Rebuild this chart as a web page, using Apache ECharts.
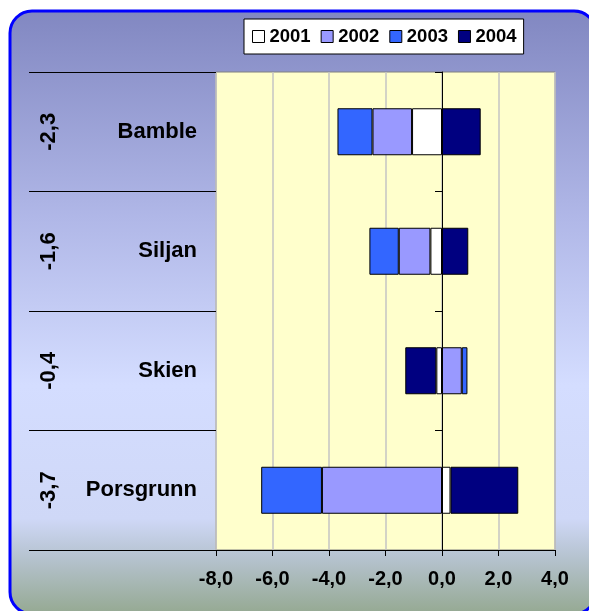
<!DOCTYPE html>
<html>
<head>
<meta charset="utf-8">
<script src="https://cdn.jsdelivr.net/npm/echarts@6/dist/echarts.min.js"></script>
<style>
  html, body { margin: 0; padding: 0; background: #fff; }
  #chart { width: 589px; height: 611px; }
</style>
</head>
<body>
<div id="chart"></div>
<script>
const municipalities = ['Bamble', 'Siljan', 'Skien', 'Porsgrunn'];
const totalLabels = ['-2,3', '-1,6', '-0,4', '-3,7'];
const years = ['2001', '2002', '2003', '2004'];

const values2001 = [-1.06, -0.41, -0.2, 0.3];
const values2002 = [-1.4, -1.12, 0.7, -4.25];
const values2003 = [-1.24, -1.04, 0.2, -2.15];
const values2004 = [1.37, 0.93, -1.1, 2.4];

const yearColors = ['#FFFFFF', '#9999FF', '#3366FF', '#000080'];
const font = 'Liberation Sans, Arial, sans-serif';

const chart = echarts.init(document.getElementById('chart'));

function barSeries(name, data, color) {
  return {
    name: name,
    type: 'bar',
    stack: 'total',
    yAxisIndex: 0,
    barWidth: 47,
    itemStyle: { color: color, borderColor: '#000', borderWidth: 1 },
    data: data
  };
}

const option = {
  animation: false,
  graphic: [
    {
      type: 'rect',
      z: -100,
      shape: { x: 10, y: 11, width: 586, height: 603, r: 22 },
      style: {
        fill: new echarts.graphic.LinearGradient(0, 0, 0, 1, [
          { offset: 0, color: '#8187C1' },
          { offset: 0.35, color: '#B1B8E8' },
          { offset: 0.62, color: '#D4DDFF' },
          { offset: 0.84, color: '#CFD8F7' },
          { offset: 0.9, color: '#B7C4D2' },
          { offset: 1, color: '#94A890' }
        ]),
        stroke: '#0000FF',
        lineWidth: 3
      }
    }
  ],
  legend: {
    data: years,
    left: 244,
    top: 19,
    padding: [8, 7, 8, 8],
    itemGap: 10,
    itemWidth: 12,
    itemHeight: 12,
    icon: 'rect',
    backgroundColor: '#FFFFFF',
    borderColor: '#000',
    borderWidth: 1,
    itemStyle: { borderColor: '#000', borderWidth: 1 },
    textStyle: { fontFamily: font, fontSize: 18.5, fontWeight: 'bold', color: '#000' }
  },
  grid: {
    left: 216,
    right: 34,
    top: 72,
    bottom: 61,
    show: true,
    backgroundColor: '#FFFFCC',
    borderColor: '#808080',
    borderWidth: 1
  },
  xAxis: {
    type: 'value',
    min: -8,
    max: 4,
    interval: 2,
    axisLine: { show: true, lineStyle: { color: '#000', width: 1 } },
    axisTick: { show: true, length: 6, lineStyle: { color: '#000' } },
    splitLine: { show: true, lineStyle: { color: '#C4C4C4', width: 1.5 } },
    axisLabel: {
      margin: 19,
      fontFamily: font,
      fontSize: 20,
      fontWeight: 'bold',
      color: '#000',
      formatter: function (v) { return v.toFixed(1).replace('.', ','); }
    }
  },
  yAxis: [
    {
      // category axis drawn on the zero line
      type: 'category',
      inverse: true,
      data: municipalities,
      axisLine: { show: true, onZero: true, lineStyle: { color: '#000', width: 1 } },
      axisTick: { show: true, length: 7, lineStyle: { color: '#000' } },
      axisLabel: { show: false },
      splitLine: { show: false }
    },
    {
      type: 'category',
      position: 'left',
      inverse: true,
      data: municipalities,
      axisLine: { show: false, onZero: false },
      axisTick: { show: true, length: 187, lineStyle: { color: '#000' } },
      axisLabel: {
        margin: 19,
        fontFamily: font,
        fontSize: 22,
        fontWeight: 'bold',
        color: '#000'
      },
      splitLine: { show: false }
    },
    {
      type: 'category',
      position: 'left',
      offset: 148,
      inverse: true,
      data: totalLabels,
      axisLine: { show: false, onZero: false },
      axisTick: { show: false },
      axisLabel: {
        rotate: 90,
        margin: 8,
        fontFamily: font,
        fontSize: 22,
        fontWeight: 'bold',
        color: '#000'
      },
      splitLine: { show: false }
    }
  ],
  series: [
    barSeries(years[0], values2001, yearColors[0]),
    barSeries(years[1], values2002, yearColors[1]),
    barSeries(years[2], values2003, yearColors[2]),
    barSeries(years[3], values2004, yearColors[3])
  ]
};

chart.setOption(option);
</script>
</body>
</html>
